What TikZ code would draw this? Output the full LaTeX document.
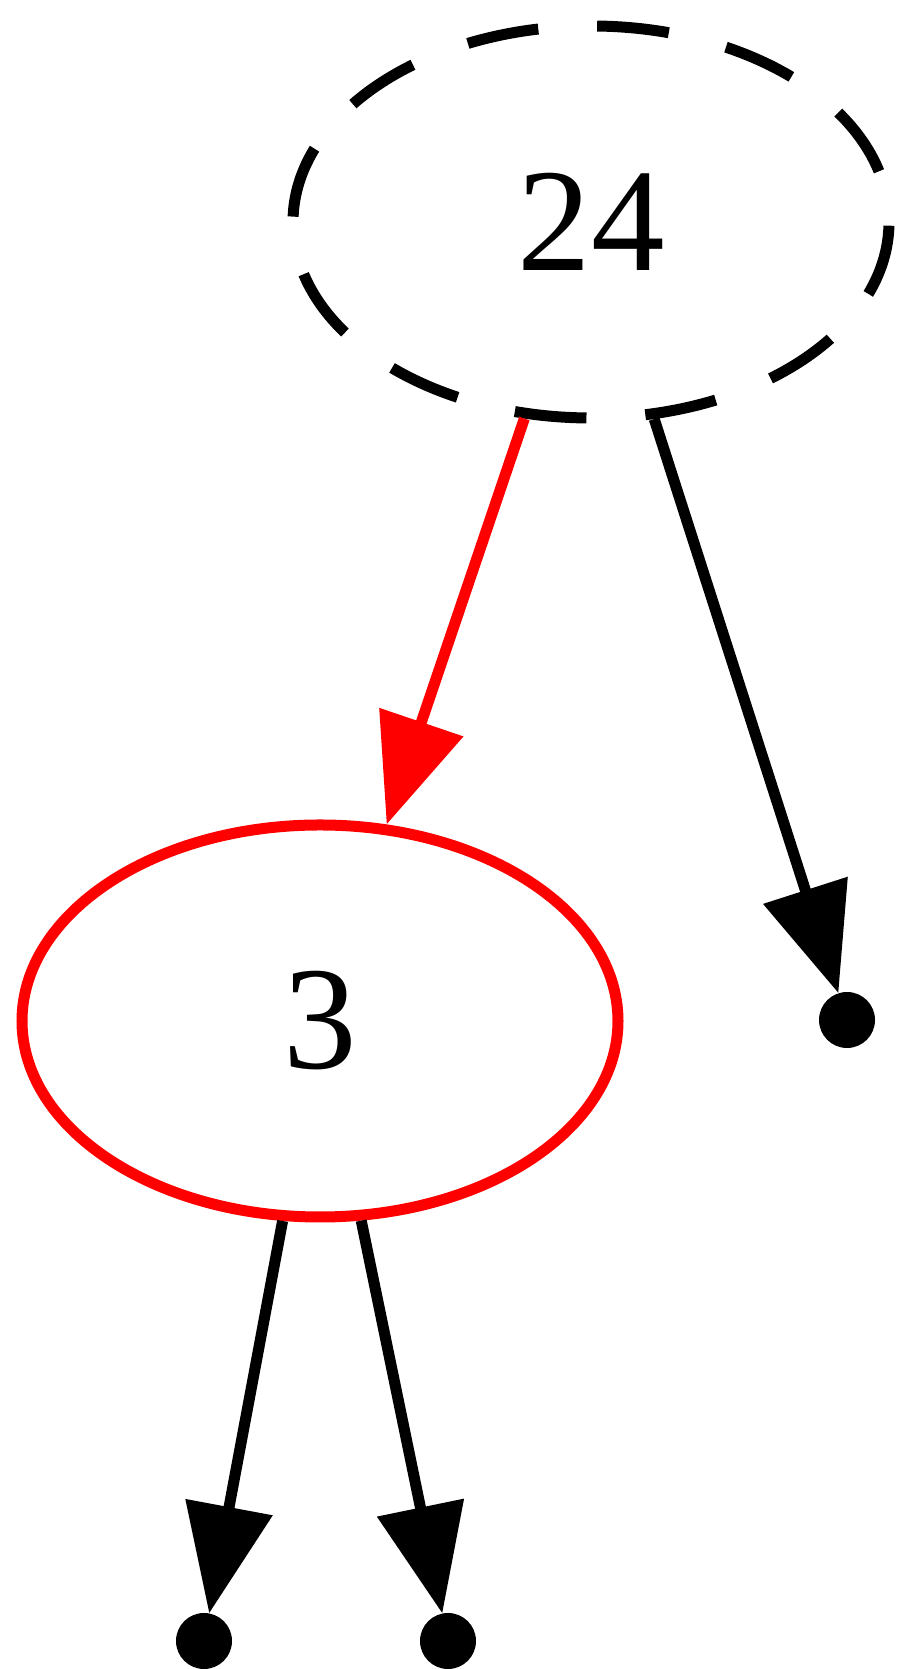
\documentclass[tikz,border=0pt]{standalone}
\usepackage{fontspec}
\setmainfont{Liberation Serif}
\usetikzlibrary{arrows.meta,shapes.geometric}
\begin{document}
\begin{tikzpicture}[x=1pt,y=1pt,
  nodeell/.style={ellipse, minimum width=596pt, minimum height=392pt, inner sep=0pt, line width=11pt, font=\fontsize{147}{147}\selectfont},
  leaf/.style={circle, fill=black, minimum size=56pt, inner sep=0pt},
  edgearrow/.style={line width=11pt, -{Triangle[length=108pt,width=86pt]}}]
\useasboundingbox (0,0) rectangle (900,1669);
\node[nodeell, draw, dash pattern=on 72pt off 59pt, dash phase=79pt] (n24) at (591,1447) {24};
\node[nodeell, draw=red] (n3) at (320,648) {3};
\node[leaf] (r) at (847,649) {};
\node[leaf] (l1) at (204,28) {};
\node[leaf] (l2) at (448,28) {};
\draw[edgearrow, red] (n24) -- (n3);
\draw[edgearrow] (n24) -- (r);
\draw[edgearrow] (n3) -- (l1);
\draw[edgearrow] (n3) -- (l2);
\end{tikzpicture}
\end{document}
